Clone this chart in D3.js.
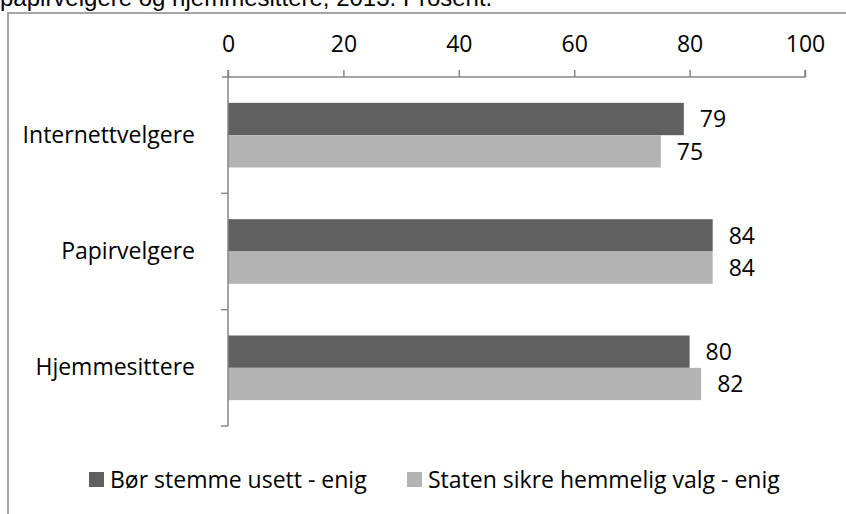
<!DOCTYPE html>
<html>
<head>
	<meta charset="utf-8">
	<script src="https://d3js.org/d3.v7.min.js"></script>
	<style>
		body { margin: 0; background: #fff; }
		text { font-family: "Open Sans", sans-serif; fill: #000; }
	</style>
</head>
<body>
<svg width="846" height="514"></svg>

<script type="text/javascript">
var categories = ['Internettvelgere', 'Papirvelgere', 'Hjemmesittere'];
var seriesNames = ['Bør stemme usett - enig', 'Staten sikre hemmelig valg - enig'];
var usett = [79, 84, 80];
var hemmelig = [75, 84, 82];
var xTicks = [0, 20, 40, 60, 80, 100];
var colors = ['#606060', '#b3b3b3'];

var svg = d3.select('svg');
var fontSize = '23px';

// cut-off title from the document above the chart
svg.append('text')
	.attr('x', 0)
	.attr('y', 6)
	.style('font-family', '"Liberation Sans", Arial, sans-serif')
	.style('font-size', '24px')
	.text('papirvelgere og hjemmesittere, 2013. Prosent.');

// chart border
svg.append('path')
	.attr('d', 'M8,514 V13 H846')
	.attr('fill', 'none')
	.attr('stroke', '#888')
	.attr('stroke-width', 1.5);

var plotL = 228, plotR = 805, plotT = 77, plotB = 426;

var x = d3.scaleLinear().domain([0, 100]).range([plotL, plotR]);
var y = d3.scaleBand().domain(categories).range([plotT, plotB]);
var inner = d3.scaleBand().domain([0, 1]).range([0, y.bandwidth()]).paddingInner(0).paddingOuter(0.8);

var rows = categories.map(function(c, i) {
	return {cat: c, vals: [usett[i], hemmelig[i]]};
});

var g = svg.append('g');

rows.forEach(function(r) {
	r.vals.forEach(function(v, j) {
		g.append('rect')
			.attr('x', x(0))
			.attr('y', y(r.cat) + inner(j))
			.attr('width', x(v) - x(0))
			.attr('height', inner.bandwidth())
			.attr('fill', colors[j]);
		g.append('text')
			.attr('x', x(v) + 16)
			.attr('y', y(r.cat) + inner(j) + inner.bandwidth() / 2)
			.attr('dy', '0.36em')
			.style('font-size', fontSize)
			.text(v);
	});
});

// top axis
var xAxis = d3.axisTop(x).tickValues(xTicks).tickSize(7).tickPadding(18);
var ax = svg.append('g').attr('transform', 'translate(0,' + plotT + ')').call(xAxis);
ax.select('.domain').attr('stroke', '#868686').attr('stroke-width', 1.5)
	.attr('d', 'M' + (plotL - 6) + ',0H' + plotR + 'V-7');
ax.selectAll('.tick line').attr('stroke', '#868686').attr('stroke-width', 1.5);
ax.selectAll('.tick text').style('font-size', fontSize).style('font-family', '"Open Sans", sans-serif').attr('fill', '#000');

// category axis
var yAxis = d3.axisLeft(y).tickSize(0).tickPadding(33);
var ay = svg.append('g').attr('transform', 'translate(' + plotL + ',0)').call(yAxis);
ay.select('.domain').attr('stroke', '#868686').attr('stroke-width', 1.5)
	.attr('d', 'M0,' + (plotT - 7) + 'V' + plotB);
ay.selectAll('.tick text').style('font-size', fontSize).style('font-family', '"Open Sans", sans-serif').attr('fill', '#000');
// boundary ticks between categories
var bounds = categories.map(function(c) { return y(c) + y.bandwidth(); });
ay.selectAll('.bnd').data(bounds).enter().append('line')
	.attr('x1', -7).attr('x2', 0)
	.attr('y1', function(d) { return d; }).attr('y2', function(d) { return d; })
	.attr('stroke', '#868686').attr('stroke-width', 1.5);

// legend
var legendX = [89, 407];
var lg = svg.append('g');
seriesNames.forEach(function(s, i) {
	lg.append('rect')
		.attr('x', legendX[i]).attr('y', 472)
		.attr('width', 15).attr('height', 15)
		.attr('fill', colors[i]);
	lg.append('text')
		.attr('x', legendX[i] + 21).attr('y', 480)
		.attr('dy', '0.36em')
		.style('font-size', fontSize)
		.text(s);
});
</script>
</body>
</html>
